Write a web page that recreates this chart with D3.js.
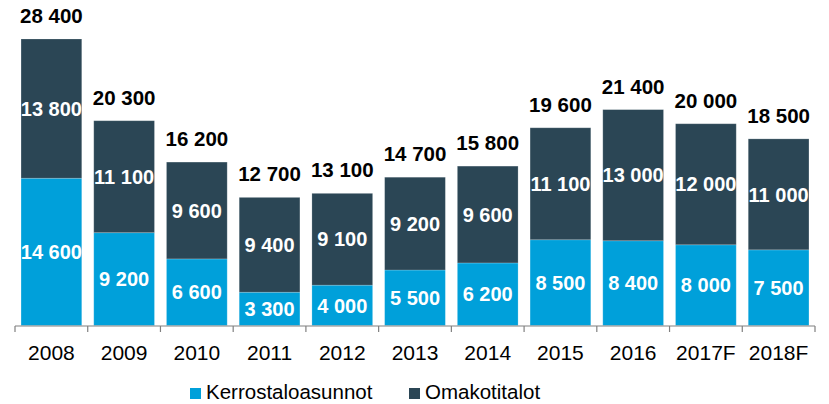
<!DOCTYPE html>
<html>
<head>
<meta charset="utf-8">
<script src="https://cdn.jsdelivr.net/npm/d3@7"></script>
<style>
  html, body { margin: 0; padding: 0; background: #fff; }
  svg { display: block; font-family: "Liberation Sans", Arial, sans-serif; }
</style>
</head>
<body>
<svg id="chart" width="829" height="404"></svg>
<script>
// Completed dwellings by type, 2008–2018F
const years = ["2008", "2009", "2010", "2011", "2012", "2013", "2014", "2015", "2016", "2017F", "2018F"];
const kerrostalo = [14600, 9200, 6600, 3300, 4000, 5500, 6200, 8500, 8400, 8000, 7500];
const omakoti = [13800, 11100, 9600, 9400, 9100, 9200, 9600, 11100, 13000, 12000, 11000];
const seriesNames = ["Kerrostaloasunnot", "Omakotitalot"];
const seriesColors = ["#00A0DA", "#2B4655"];

const svg = d3.select("#chart");
const fmt = v => d3.format(",")(v).replace(/,/g, " ");

const x = d3.scaleBand().domain(years).range([15, 815]).paddingInner(0.165).paddingOuter(0.083);
const y = d3.scaleLinear().domain([0, 28400]).range([325.5, 39]);

const rows = years.map((yr, i) => ({ year: yr, k: kerrostalo[i], o: omakoti[i] }));
const stack = d3.stack().keys(["k", "o"])(rows);

// stacked bars
const layers = svg.append("g").selectAll("g").data(stack).join("g")
  .attr("fill", (d, i) => seriesColors[i]);

layers.selectAll("rect").data(d => d).join("rect")
  .attr("x", d => x(d.data.year))
  .attr("y", d => y(d[1]))
  .attr("width", x.bandwidth())
  .attr("height", d => y(d[0]) - y(d[1]))
  .attr("stroke", "rgba(255,255,255,0.25)")
  .attr("stroke-width", 0.8);

// segment values
layers.selectAll("text").data(d => d).join("text")
  .attr("x", d => x(d.data.year) + x.bandwidth() / 2)
  .attr("y", d => (y(d[0]) + y(d[1])) / 2)
  .attr("dy", "0.36em")
  .attr("text-anchor", "middle")
  .attr("fill", "#fff")
  .attr("font-weight", "bold")
  .attr("font-size", "20px")
  .text(d => fmt(d[1] - d[0]));

// totals above bars
svg.append("g").selectAll("text").data(rows).join("text")
  .attr("x", d => x(d.year) + x.bandwidth() / 2)
  .attr("y", d => y(d.k + d.o) - 16)
  .attr("text-anchor", "middle")
  .attr("fill", "#000")
  .attr("font-weight", "bold")
  .attr("font-size", "20.5px")
  .text(d => fmt(d.k + d.o));

// category axis with ticks between bars
const axisG = svg.append("g").attr("transform", "translate(0,326)");
axisG.append("line")
  .attr("x1", 15).attr("x2", 815)
  .attr("stroke", "#808080").attr("stroke-width", 1.2);
const bounds = d3.range(years.length + 1).map(i => 15 + (815 - 15) * i / years.length);
axisG.selectAll("line.tick").data(bounds).join("line")
  .attr("class", "tick")
  .attr("x1", d => d).attr("x2", d => d)
  .attr("y1", 0).attr("y2", 6)
  .attr("stroke", "#808080").attr("stroke-width", 1.2);
axisG.selectAll("text").data(years).join("text")
  .attr("x", d => x(d) + x.bandwidth() / 2)
  .attr("y", 33.5)
  .attr("text-anchor", "middle")
  .attr("fill", "#000")
  .attr("font-size", "21px")
  .text(d => d);

// legend
const legendX = [190, 409];
const legend = svg.append("g").selectAll("g").data(seriesNames).join("g")
  .attr("transform", (d, i) => `translate(${legendX[i]},388)`);
legend.append("rect")
  .attr("width", 11).attr("height", 11)
  .attr("fill", (d, i) => seriesColors[i]);
legend.append("text")
  .attr("x", 16).attr("y", 11)
  .attr("fill", "#000")
  .attr("font-size", "20.5px")
  .text(d => d);
</script>
</body>
</html>
